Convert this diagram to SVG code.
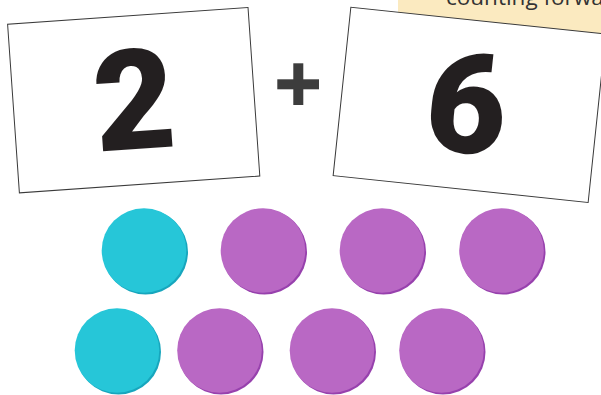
<svg xmlns="http://www.w3.org/2000/svg" width="601" height="395" viewBox="0 0 601 395">
<style>
.card{fill:#ffffff;stroke:#3a3a3a;stroke-width:1}
.num{font-family:Roboto,"DejaVu Sans",sans-serif;font-weight:900;font-size:140px;fill:#231f20;text-anchor:middle}
.cy{fill:#26c6d8}.cys{fill:#17a6bd}
.pu{fill:#b968c4}.pus{fill:#9741ad}
.note{font-family:"Open Sans","Liberation Sans",sans-serif;font-size:22.5px;fill:#333333}
</style>
<rect width="601" height="395" fill="#ffffff"/>
<g id="note">
<rect x="398" y="-10" width="210" height="50" fill="#fbeac0"/>
<text class="note" x="446" y="5">counting forwa</text>
</g>
<g id="card1" transform="rotate(-4 133.7 100.2)">
<rect class="card" x="13.2" y="15.7" width="241" height="169"/>
<text class="num" x="134" y="149">2</text>
</g>
<g id="plus" fill="#3d3d3d">
<rect x="293.3" y="63.3" width="10" height="41.7"/>
<rect x="277.3" y="79.3" width="41.7" height="10"/>
</g>
<g id="card2" transform="rotate(6 469.5 104.8)">
<rect class="card" x="341.3" y="20.2" width="256.4" height="169.3"/>
<text class="num" x="467" y="153">6</text>
</g>
<g id="counters">
<g id="c1"><circle class="cys" cx="145.5" cy="252" r="42.5"/><circle class="cy" cx="144" cy="250.5" r="42.3"/></g>
<g id="c2"><circle class="pus" cx="264.5" cy="252" r="42.5"/><circle class="pu" cx="263" cy="250.5" r="42.3"/></g>
<g id="c3"><circle class="pus" cx="383.5" cy="252" r="42.5"/><circle class="pu" cx="382" cy="250.5" r="42.3"/></g>
<g id="c4"><circle class="pus" cx="503" cy="252" r="42.5"/><circle class="pu" cx="501.5" cy="250.5" r="42.3"/></g>
<g id="c5"><circle class="cys" cx="118.5" cy="352" r="42.5"/><circle class="cy" cx="117" cy="350.5" r="42.3"/></g>
<g id="c6"><circle class="pus" cx="221" cy="352" r="42.5"/><circle class="pu" cx="219.5" cy="350.5" r="42.3"/></g>
<g id="c7"><circle class="pus" cx="333.5" cy="352" r="42.5"/><circle class="pu" cx="332" cy="350.5" r="42.3"/></g>
<g id="c8"><circle class="pus" cx="443" cy="352" r="42.5"/><circle class="pu" cx="441.5" cy="350.5" r="42.3"/></g>
</g>
</svg>
